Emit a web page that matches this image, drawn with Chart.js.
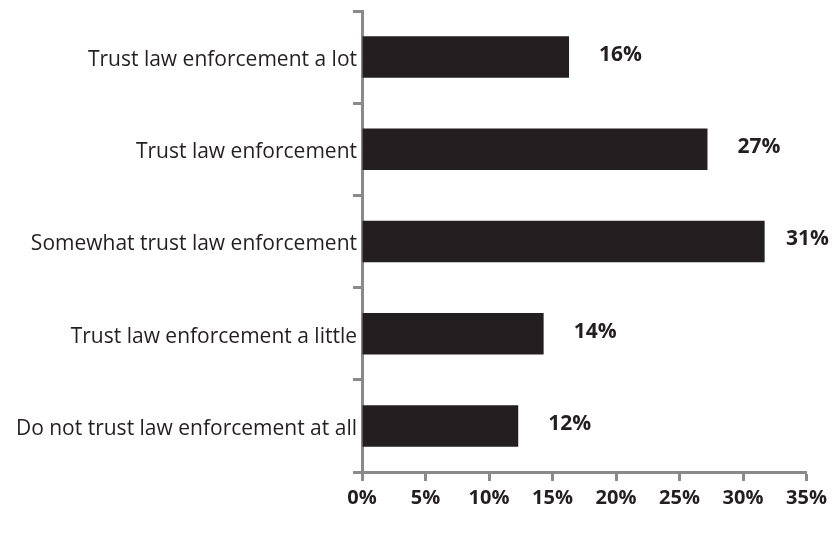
<!DOCTYPE html>
<html>
<head>
<meta charset="utf-8">
<script src="https://cdn.jsdelivr.net/npm/chart.js@4"></script>
<style>
  html, body { margin: 0; padding: 0; background: #fff; }
  #wrap { width: 832px; height: 533px; position: relative; }
</style>
</head>
<body>
<div id="wrap"><canvas id="trustChart"></canvas></div>
<script>
// ── Datos ────────────────────────────────────────────────────
const CATEGORIAS = [
  'Trust law enforcement a lot',
  'Trust law enforcement',
  'Somewhat trust law enforcement',
  'Trust law enforcement a little',
  'Do not trust law enforcement at all',
];
const VALORES   = [16.3, 27.2, 31.7, 14.3, 12.3];
const ETIQUETAS = ['16%', '27%', '31%', '14%', '12%'];
const X_TICKS   = [0, 5, 10, 15, 20, 25, 30, 35];

const TINTA = '#231f20';
const EJE   = '#8a8a8a';
const FUENTE = "'Open Sans', 'Noto Sans', sans-serif";

// etiquetas de valor a la derecha de cada barra
const valueLabels = {
  id: 'valueLabels',
  afterDatasetsDraw(chart) {
    const { ctx } = chart;
    const meta = chart.getDatasetMeta(0);
    ctx.save();
    ctx.font = `bold 21px ${FUENTE}`;
    ctx.fillStyle = TINTA;
    ctx.textAlign = 'left';
    ctx.textBaseline = 'middle';
    meta.data.forEach((bar, i) => {
      const w = ctx.measureText(ETIQUETAS[i]).width;
      const x = Math.min(bar.x + 30, chart.width - w - 3);
      ctx.fillText(ETIQUETAS[i], x, bar.y - 2);
    });
    ctx.restore();
  },
};

new Chart(document.getElementById('trustChart'), {
  type: 'bar',
  data: {
    labels: CATEGORIAS,
    datasets: [{
      data: VALORES,
      backgroundColor: TINTA,
      borderWidth: 0,
      categoryPercentage: 0.45,
      barPercentage: 1,
    }],
  },
  options: {
    indexAxis: 'y',
    responsive: true, maintainAspectRatio: false,
    animation: false,
    layout: { padding: { top: 11, right: 25, left: 0, bottom: 0 } },
    plugins: { legend: { display: false }, tooltip: { enabled: false } },
    scales: {
      x: {
        min: 0, max: 35,
        afterBuildTicks: s => { s.ticks = X_TICKS.map(v => ({ value: v })); },
        afterFit: s => { s.height = 61; },
        border: { color: EJE, width: 3 },
        grid: { drawOnChartArea: false, tickLength: 9, tickWidth: 3, tickColor: EJE },
        ticks: {
          callback: v => v + '%',
          font: { family: FUENTE, size: 20, weight: 'bold' },
          color: TINTA, padding: 5, maxRotation: 0,
        },
      },
      y: {
        afterFit: s => { s.width = 362; },
        border: { color: EJE, width: 3 },
        grid: { drawOnChartArea: false, offset: true, tickLength: 9, tickWidth: 3, tickColor: EJE },
        ticks: {
          font: { family: FUENTE, size: 21 },
          color: TINTA, padding: -4, labelOffset: 3,
        },
      },
    },
  },
  plugins: [valueLabels],
});
</script>
</body>
</html>
